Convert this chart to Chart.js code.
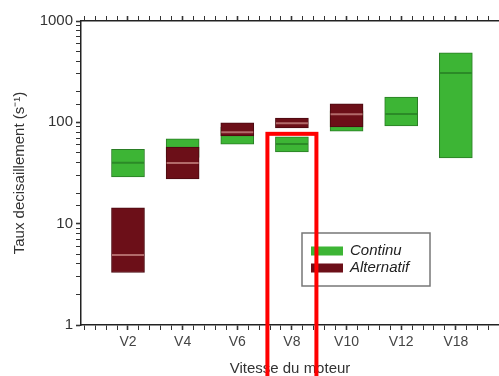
<!DOCTYPE html>
<html>
<head>
<meta charset="utf-8">
<script src="https://cdn.jsdelivr.net/npm/chart.js@4.4.1/dist/chart.umd.min.js"></script>
<style>
  body { margin: 0; background: #fff; }
  canvas { display: block; }
</style>
</head>
<body>
<canvas id="shearChart" width="499" height="376"></canvas>
<script>
var categories = ["V2", "V4", "V6", "V8", "V10", "V12", "V18"];

// Continu : box low / high / median
var continuLow = [29, 45, 61, 51, 82, 92, 44.5];
var continuHigh = [54, 68.6, 90, 72, 130, 178, 484];
var continuMed = [40, 55, 75, 61, 105, 121, 307];

// Alternatif : box low / high / median
var alternatifLow = [3.3, 27.6, 73.4, 88, 90, null, null];
var alternatifHigh = [14.3, 57, 98.6, 110, 152, null, null];
var alternatifMed = [4.9, 39.7, 80, 98, 120, null, null];

var yTickLabels = [1, 10, 100, 1000];
var highlightCategory = "V8";
var highlightFrom = 77;

var green = "#3db535";
var greenEdge = "#2a7d25";
var greenMed = "#2b8a27";
var maroon = "#6c0f18";
var maroonEdge = "#4a0a10";
var maroonMed = "#b26a6a";

function boxes(lo, hi) {
    var out = [];
    for (var i = 0; i < categories.length; i++) {
        if (lo[i] == null) continue;
        out.push({x: i + 1, y: [lo[i], hi[i]]});
    }
    return out;
}
function medians(med) {
    var out = [];
    for (var i = 0; i < categories.length; i++) {
        if (med[i] == null) continue;
        out.push({x: i + 1, y: med[i]});
    }
    return out;
}

var xMin = 0.14, xMax = 7.79;

function minorTicks(scale) {
    var t = [];
    for (var k = Math.ceil(xMin / 0.2); k * 0.2 <= xMax; k++) {
        t.push({value: Math.round(k * 0.2 * 1000) / 1000});
    }
    scale.ticks = t;
}
function isMajor(v) { return Math.abs(v - Math.round(v)) < 1e-6; }
function noPad(s) { s.paddingLeft = 0; s.paddingRight = 0; }

var overlay = {
    id: "overlay",
    afterDraw: function (chart) {
        var ctx = chart.ctx;
        // legend box
        var lx = 302, ly = 233, lw = 128, lh = 53;
        ctx.save();
        ctx.strokeStyle = "#777";
        ctx.lineWidth = 1.5;
        ctx.strokeRect(lx, ly, lw, lh);
        var items = chart.data.datasets.filter(function (d) { return d.type === "bar"; });
        ctx.font = "italic 15px 'Liberation Sans', Arial, sans-serif";
        ctx.textBaseline = "middle";
        items.forEach(function (d, i) {
            var cy = ly + 18 + i * 17;
            ctx.fillStyle = d.backgroundColor;
            ctx.fillRect(lx + 9, cy - 4.5, 32, 9);
            ctx.fillStyle = "#222";
            ctx.fillText(d.label, lx + 48, cy);
        });
        // red highlight frame
        var xs = chart.scales.x, ys = chart.scales.y;
        var cx = xs.getPixelForValue(categories.indexOf(highlightCategory) + 1);
        var top = ys.getPixelForValue(highlightFrom);
        ctx.strokeStyle = "#ff0000";
        ctx.lineWidth = 4;
        ctx.strokeRect(cx - 24.5, top, 49, chart.height - top + 10);
        ctx.restore();
    }
};

var axisFont = {family: "'Liberation Sans', Arial, sans-serif", size: 14};

var config = {
    type: "bar",
    data: {
        datasets: [
            {
                type: "bar",
                label: "Continu",
                data: boxes(continuLow, continuHigh),
                backgroundColor: green,
                borderColor: greenEdge,
                borderWidth: 1,
                borderSkipped: false,
                barThickness: 33,
                grouped: false,
                order: 4
            },
            {
                type: "line",
                label: "",
                data: medians(continuMed),
                showLine: false,
                pointStyle: "line",
                pointRadius: 16,
                pointBorderWidth: 2,
                pointBorderColor: greenMed,
                order: 3
            },
            {
                type: "bar",
                label: "Alternatif",
                data: boxes(alternatifLow, alternatifHigh),
                backgroundColor: maroon,
                borderColor: maroonEdge,
                borderWidth: 1,
                borderSkipped: false,
                barThickness: 33,
                grouped: false,
                order: 2
            },
            {
                type: "line",
                label: "",
                data: medians(alternatifMed),
                showLine: false,
                pointStyle: "line",
                pointRadius: 16,
                pointBorderWidth: 2,
                pointBorderColor: maroonMed,
                order: 1
            }
        ]
    },
    options: {
        responsive: false,
        animation: false,
        layout: {padding: 0, autoPadding: false},
        plugins: {legend: {display: false}, tooltip: {enabled: false}},
        scales: {
            x: {
                type: "linear",
                position: "bottom",
                offset: false,
                min: xMin,
                max: xMax,
                afterBuildTicks: minorTicks,
                afterFit: function (s) { s.height = 51; noPad(s); },
                ticks: {
                    autoSkip: false,
                    maxRotation: 0,
                    padding: 4,
                    color: "#444",
                    font: axisFont,
                    callback: function (v) { return isMajor(v) ? categories[Math.round(v) - 1] || "" : ""; }
                },
                grid: {
                    offset: false,
                    drawOnChartArea: false,
                    tickLength: 5,
                    tickColor: "#333",
                    tickWidth: function (c) { return c.tick && isMajor(c.tick.value) ? 1.6 : 1; }
                },
                border: {color: "#222", width: 1.5},
                title: {
                    display: true,
                    text: "Vitesse du moteur",
                    color: "#333",
                    font: {family: "'Liberation Sans', Arial, sans-serif", size: 15, lineHeight: 1},
                    padding: {top: 0, bottom: 0}
                }
            },
            x2: {
                type: "linear",
                position: "top",
                offset: false,
                min: xMin,
                max: xMax,
                afterBuildTicks: minorTicks,
                afterFit: function (s) { s.height = 21; noPad(s); },
                ticks: {display: false},
                grid: {
                    offset: false,
                    drawOnChartArea: false,
                    tickLength: 5,
                    tickColor: "#333",
                    tickWidth: function (c) { return c.tick && isMajor(c.tick.value) ? 1.6 : 1; }
                },
                border: {color: "#222", width: 1.5}
            },
            y: {
                type: "logarithmic",
                min: 1,
                max: 1000,
                afterFit: function (s) { s.width = 81; },
                ticks: {
                    autoSkip: false,
                    padding: 3,
                    color: "#333",
                    font: {family: "'Liberation Sans', Arial, sans-serif", size: 15},
                    callback: function (v) { return yTickLabels.indexOf(v) >= 0 ? String(v) : ""; }
                },
                grid: {
                    drawOnChartArea: false,
                    tickLength: 5,
                    tickColor: "#333",
                    tickWidth: function (c) { return c.tick && yTickLabels.indexOf(c.tick.value) >= 0 ? 1.6 : 1; }
                },
                border: {color: "#222", width: 1.5},
                title: {
                    display: true,
                    text: "Taux decisaillement (s\u207B\u00B9)",
                    color: "#333",
                    font: {family: "'Liberation Sans', Arial, sans-serif", size: 15, lineHeight: 1.2},
                    padding: {top: 11, bottom: 0}
                }
            }
        }
    },
    plugins: [overlay]
};

var shearChart = new Chart(document.getElementById("shearChart"), config);
</script>
</body>
</html>
